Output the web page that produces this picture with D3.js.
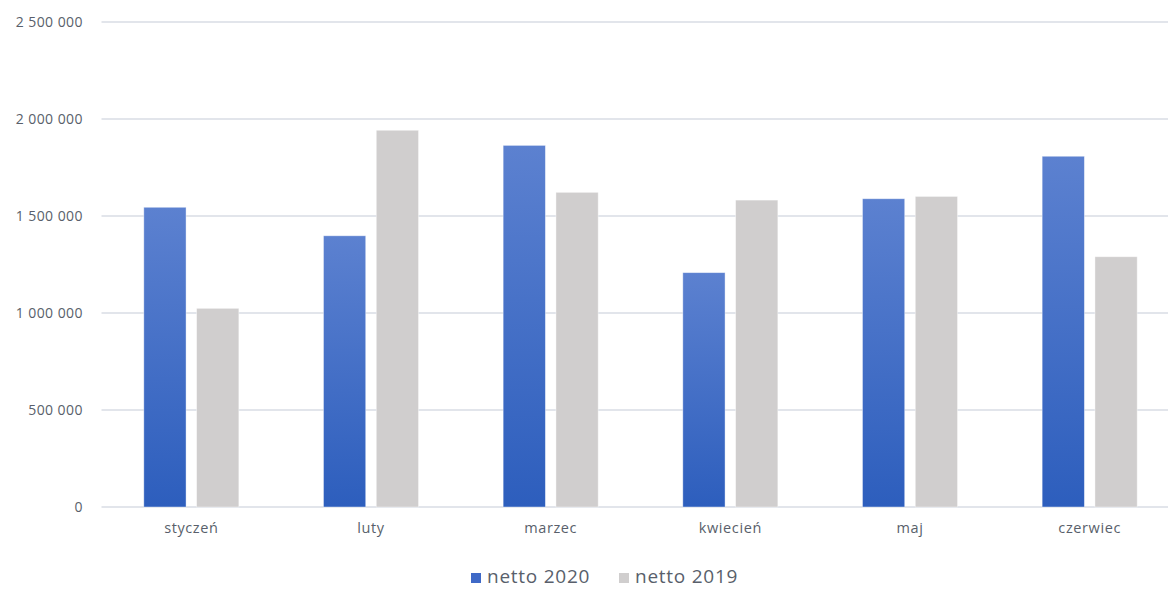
<!DOCTYPE html>
<html><head><meta charset="utf-8">
<script src="https://cdn.jsdelivr.net/npm/d3@7"></script>
<style>body{margin:0;background:#fff;font-family:"Open Sans","Noto Sans",sans-serif;}</style>
</head><body><svg id="c" width="1168" height="589"></svg>
<script>
const categories = ["styczeń","luty","marzec","kwiecień","maj","czerwiec"];
const seriesNames = ["netto 2020","netto 2019"];
const netto2020 = [1545000,1398000,1864000,1208000,1589000,1808000];
const netto2019 = [1024000,1942000,1622000,1582000,1601000,1290000];
const yTicks = [0,500000,1000000,1500000,2000000,2500000];

const svg = d3.select("#c");
const defs = svg.append("defs");
const g = defs.append("linearGradient").attr("id","gBlue").attr("x1",0).attr("y1",0).attr("x2",0).attr("y2",1);
g.append("stop").attr("offset","0%").attr("stop-color","#5C81D0");
g.append("stop").attr("offset","100%").attr("stop-color","#2D5EBD");

const mLeft = 101.5, mRight = 1179.5, mTop = 22, mBottom = 507;
const y = d3.scaleLinear().domain([0,2500000]).range([mBottom, mTop]);
const x0 = d3.scaleBand().domain(categories).range([mLeft,mRight]).paddingInner(0.471).paddingOuter(0.2355);
const x1 = d3.scaleBand().domain(seriesNames).range([0,x0.bandwidth()]).paddingInner(0.2);
const fmt = v => d3.format(",")(v).replace(/,/g," ");

// gridlines
svg.append("g").selectAll("line").data(yTicks).join("line")
  .attr("x1",mLeft).attr("x2",1168).attr("y1",d=>y(d)).attr("y2",d=>y(d))
  .attr("stroke","#D9DDE4").attr("stroke-width",1.5);

// y labels
const yAxis = d3.axisLeft(y).tickValues(yTicks).tickFormat(fmt).tickSize(0).tickPadding(0);
const ya = svg.append("g").attr("transform","translate(83,0)").call(yAxis);
ya.select(".domain").remove();
ya.selectAll("text").attr("fill","#595F6B").style("font-size","14px").style("letter-spacing","0.45px").style("font-family","'Open Sans',sans-serif");

// bars
const data = categories.map((c,i)=>({c, vals:[{s:seriesNames[0],v:netto2020[i]},{s:seriesNames[1],v:netto2019[i]}]}));
const colors = {"netto 2020":"url(#gBlue)","netto 2019":"#D0CECE"};
const grp = svg.append("g").selectAll("g").data(data).join("g").attr("transform",d=>`translate(${x0(d.c)},0)`);
grp.selectAll("rect").data(d=>d.vals).join("rect")
  .attr("x",d=>x1(d.s)).attr("width",x1.bandwidth())
  .attr("y",d=>y(d.v)).attr("height",d=>y(0)-y(d.v))
  .attr("fill",d=>colors[d.s]).attr("stroke","#ffffff").attr("stroke-opacity",0.5).attr("stroke-width",0.8);

// x labels
const xAxis = d3.axisBottom(x0).tickSize(0).tickPadding(0);
const xa = svg.append("g").attr("transform",`translate(0,${mBottom+16})`).call(xAxis);
xa.select(".domain").remove();
xa.selectAll("text").attr("fill","#595F6B").style("font-size","14.5px").style("letter-spacing","0.6px").style("font-family","'Open Sans',sans-serif");

// legend
const legend = svg.append("g");
const legColors = ["#3F69C7","#D0CECE"];
const lx = [471, 619];
seriesNames.forEach((s,i)=>{
  legend.append("rect").attr("x",lx[i]).attr("y",573).attr("width",10).attr("height",10).attr("fill",legColors[i]);
  legend.append("text").attr("x",lx[i]+16).attr("y",583).text(s)
    .attr("fill","#595F6B").style("font-size","19px").style("letter-spacing","0.75px").style("font-family","'Open Sans',sans-serif");
});
</script></body></html>
